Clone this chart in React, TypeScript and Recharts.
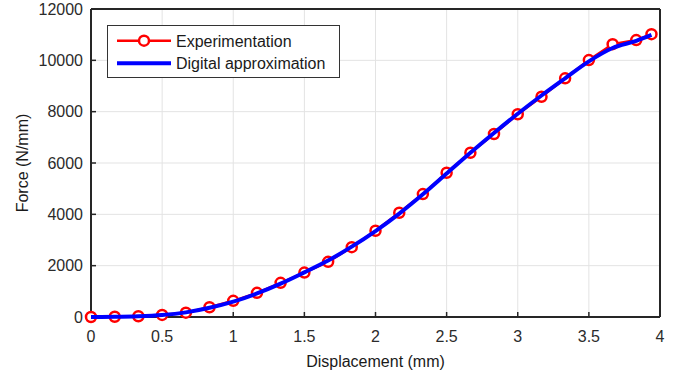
import { CartesianGrid, Legend, Line, LineChart, XAxis, YAxis } from "recharts";

// Displacement (mm) at each measurement
const displacement = [
  0, 0.167, 0.333, 0.5, 0.667, 0.833, 1, 1.167, 1.333, 1.5, 1.667, 1.833, 2,
  2.167, 2.333, 2.5, 2.667, 2.833, 3, 3.167, 3.333, 3.5, 3.667, 3.833, 3.94,
];

// Measured force (N/mm)
const experimentation = [
  0, 10, 30, 80, 170, 380, 630, 940, 1330, 1730, 2150, 2720, 3360, 4060, 4790,
  5620, 6400, 7130, 7900, 8580, 9300, 10010, 10630, 10790, 11020,
];

// Fitted curve (N/mm)
const approximation = [
  0, 5, 25, 75, 180, 360, 600, 920, 1300, 1740, 2200, 2740, 3350, 4030, 4780,
  5590, 6400, 7170, 7920, 8630, 9300, 9960, 10480, 10760, 10990,
];

const xTicks = [0, 0.5, 1, 1.5, 2, 2.5, 3, 3.5, 4];
const yTicks = [0, 2000, 4000, 6000, 8000, 10000, 12000];

const chartData = displacement.map((x, i) => ({
  x,
  exp: experimentation[i],
  approx: approximation[i],
}));

const FONT = '"Liberation Sans", Arial, Helvetica, sans-serif';
const AXIS = "#262626";
const tickStyle = { fontSize: 16, fill: "#2b2b2b", fontFamily: FONT };

function YLabel({ viewBox }: any) {
  const cx = 22;
  const cy = viewBox.y + viewBox.height / 2;
  return (
    <text
      x={cx}
      y={cy}
      transform={`rotate(-90, ${cx}, ${cy})`}
      textAnchor="middle"
      dominantBaseline="central"
      fontSize={16}
      fontFamily={FONT}
      fill="#1a1a1a"
    >
      Force (N/mm)
    </text>
  );
}

function LegendBox({ payload }: any) {
  const order = ["exp", "approx"];
  const items = [...(payload ?? [])].sort(
    (a: any, b: any) => order.indexOf(a.dataKey) - order.indexOf(b.dataKey),
  );
  return (
    <div
      style={{
        boxSizing: "border-box",
        width: 233,
        height: 53,
        border: "1px solid #333",
        background: "#fff",
        position: "relative",
      }}
    >
      <svg width={231} height={51} style={{ position: "absolute", left: 0, top: 0 }}>
        {items.map((entry: any, i: number) => {
          const y = i === 0 ? 14.7 : 37.3;
          const isExp = entry.dataKey === "exp";
          return (
            <g key={entry.value}>
              <line
                x1={9}
                x2={63}
                y1={y}
                y2={y}
                stroke={entry.color}
                strokeWidth={isExp ? 2.5 : 4}
              />
              {isExp && (
                <circle cx={36} cy={y} r={5} fill="#fff" stroke={entry.color} strokeWidth={2.5} />
              )}
              <text x={68} y={y + 6} fontSize={16} fontFamily={FONT} fill="#1a1a1a">
                {entry.value}
              </text>
            </g>
          );
        })}
      </svg>
    </div>
  );
}

export default function App() {
  return (
    <div style={{ position: "absolute", left: 0, top: 0, background: "#fff" }}>
      <LineChart
        width={681}
        height={377}
        data={chartData}
        margin={{ top: 8, right: 20, left: 0, bottom: 0 }}
      >
        <CartesianGrid xAxisId="x" yAxisId="y" stroke="#e3e3e3" strokeWidth={1} />
        <XAxis
          xAxisId="x"
          dataKey="x"
          type="number"
          domain={[0, 4]}
          ticks={xTicks}
          height={60}
          tickSize={-5}
          tickMargin={19}
          tickLine={{ stroke: AXIS, strokeWidth: 1.5 }}
          axisLine={{ stroke: AXIS, strokeWidth: 2 }}
          tick={tickStyle}
          label={{
            value: "Displacement (mm)",
            position: "insideBottom",
            offset: 10,
            fontSize: 16,
            fontFamily: FONT,
            fill: "#1a1a1a",
          }}
        />
        <XAxis
          xAxisId="top"
          orientation="top"
          dataKey="x"
          type="number"
          domain={[0, 4]}
          ticks={xTicks}
          height={1}
          tickSize={-5}
          tick={false}
          tickLine={{ stroke: AXIS, strokeWidth: 1.5 }}
          axisLine={{ stroke: AXIS, strokeWidth: 2 }}
        />
        <YAxis
          yAxisId="y"
          type="number"
          domain={[0, 12000]}
          ticks={yTicks}
          width={91}
          tickSize={-5}
          tickMargin={13}
          tickLine={{ stroke: AXIS, strokeWidth: 1.5 }}
          axisLine={{ stroke: AXIS, strokeWidth: 2 }}
          tick={tickStyle}
          label={<YLabel />}
        />
        <YAxis
          yAxisId="right"
          orientation="right"
          type="number"
          domain={[0, 12000]}
          ticks={yTicks}
          width={1}
          tickSize={-5}
          tick={false}
          tickLine={{ stroke: AXIS, strokeWidth: 1.5 }}
          axisLine={{ stroke: AXIS, strokeWidth: 2 }}
        />
        <Legend
          layout="vertical"
          align="center"
          verticalAlign="middle"
          wrapperStyle={{ left: 107, top: 25 }}
          content={<LegendBox />}
        />
        <Line
          xAxisId="x"
          yAxisId="y"
          name="Experimentation"
          dataKey="exp"
          type="linear"
          stroke="#ff0000"
          strokeWidth={2.5}
          dot={{ r: 5, stroke: "#ff0000", strokeWidth: 2.5, fill: "#fff" }}
          isAnimationActive={false}
        />
        <Line
          xAxisId="x"
          yAxisId="y"
          name="Digital approximation"
          dataKey="approx"
          type="monotone"
          stroke="#0000ff"
          strokeWidth={4}
          dot={false}
          zIndex={700}
          isAnimationActive={false}
        />
      </LineChart>
    </div>
  );
}
